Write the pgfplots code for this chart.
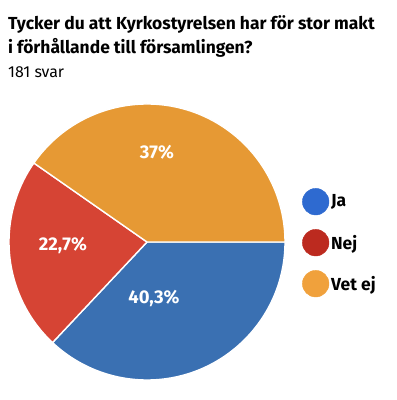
\documentclass[border=0pt]{standalone}
\usepackage{pgfplots}
\usepackage{pgfplotstable}
\pgfplotsset{compat=1.18}
\usepackage{fontspec}
\setmainfont{Fira Sans}
\definecolor{pieBlue}{HTML}{3A70B2}
\definecolor{pieRed}{HTML}{D64434}
\definecolor{pieOrange}{HTML}{E69934}
\definecolor{legBlue}{HTML}{2E6AD0}
\definecolor{legRed}{HTML}{BC2A1F}
\definecolor{legOrange}{HTML}{F0A13C}
% share of the circle that each slice covers in the drawn chart (clockwise from 3 o'clock)
\pgfplotstableread{
name share
Ja 37.0
Nej 22.7
VetEj 40.3
}\piedata
\pgfplotstablegetelem{0}{share}\of\piedata \pgfmathsetmacro\sJa{\pgfplotsretval}
\pgfplotstablegetelem{1}{share}\of\piedata \pgfmathsetmacro\sNej{\pgfplotsretval}
\pgfplotstablegetelem{2}{share}\of\piedata \pgfmathsetmacro\sVet{\pgfplotsretval}
\pgfmathsetmacro\aA{-3.6*\sJa}
\pgfmathsetmacro\aB{\aA-3.6*\sNej}
\pgfmathsetmacro\aC{\aB-3.6*\sVet}
\begin{document}
\begin{tikzpicture}
\begin{axis}[hide axis, scale only axis, width=397bp, height=400bp,
  xmin=0, xmax=397, ymin=0, ymax=400, clip=false,
  legend cell align=left,
  legend style={at={(axis cs:299,214)}, anchor=north west, draw=none, fill=none,
    font=\bfseries\fontsize{17.5}{20}\selectfont, row sep=14bp,
    /tikz/every even column/.append style={column sep=2bp}},
]
\coordinate (BL) at (axis cs:0,0);
\coordinate (TR) at (axis cs:397,400);
\fill[pieBlue, draw=white, line width=1.4bp] (axis cs:147,158) -- ++(0:138bp) arc[start angle=0, end angle=\aA, radius=138bp] -- cycle;
\fill[pieRed, draw=white, line width=1.4bp] (axis cs:147,158) -- ++(\aA:138bp) arc[start angle=\aA, end angle=\aB, radius=138bp] -- cycle;
\fill[pieOrange, draw=white, line width=1.4bp] (axis cs:147,158) -- ++(\aB:138bp) arc[start angle=\aB, end angle=\aC, radius=138bp] -- cycle;
\node[text=white, font=\bfseries\fontsize{18.5}{20}\selectfont] at (axis cs:157,248) {37\%};
\node[text=white, font=\bfseries\fontsize{18.5}{20}\selectfont] at (axis cs:63,155) {22,7\%};
\node[text=white, font=\bfseries\fontsize{18.5}{20}\selectfont] at (axis cs:154,102) {40,3\%};
\node[anchor=base west, inner sep=0pt, font=\bfseries\fontsize{17.5}{20}\selectfont] at (axis cs:8,371) {Tycker du att Kyrkostyrelsen har för stor makt};
\node[anchor=base west, inner sep=0pt, font=\bfseries\fontsize{17.5}{20}\selectfont] at (axis cs:8,347) {i förhållande till församlingen?};
\node[anchor=base west, inner sep=0pt, font=\fontsize{16}{18}\selectfont] at (axis cs:8,323) {181 svar};
\addlegendimage{legend image code/.code={\fill[legBlue] (13.3bp,0) circle[radius=13.3bp];}}
\addlegendentry{Ja}
\addlegendimage{legend image code/.code={\fill[legRed] (13.3bp,0) circle[radius=13.3bp];}}
\addlegendentry{Nej}
\addlegendimage{legend image code/.code={\fill[legOrange] (13.3bp,0) circle[radius=13.3bp];}}
\addlegendentry{Vet ej}
\end{axis}
\pgfresetboundingbox
\useasboundingbox (BL) rectangle (TR);
\end{tikzpicture}
\end{document}
